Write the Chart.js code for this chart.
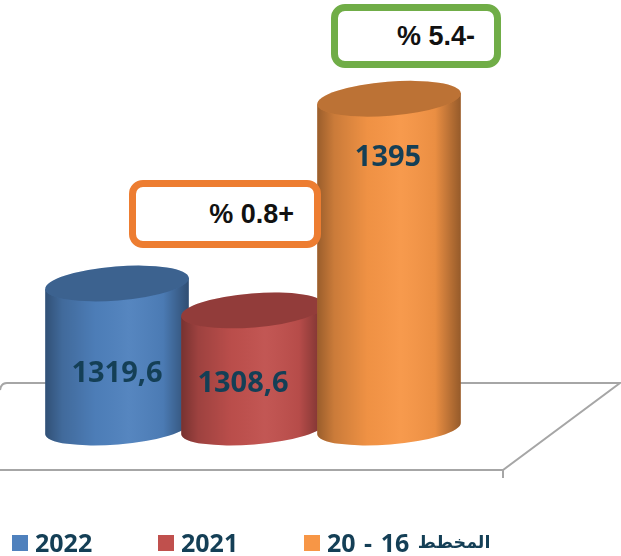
<!DOCTYPE html>
<html lang="ar">
<head>
<meta charset="utf-8">
<title>chart</title>
<script src="https://cdn.jsdelivr.net/npm/chart.js@4"></script>
<style>
    html, body { margin: 0; padding: 0; background: #fff; }
    #wrap { position: relative; width: 621px; height: 556px; overflow: hidden; }
    #chart { position: absolute; left: 0; top: 0; }
    .callout {
        position: absolute;
        box-sizing: border-box;
        background: #fff;
        border: 7px solid;
        border-radius: 14px;
        font: bold 27px "Liberation Sans", sans-serif;
        color: #111;
        white-space: pre;
        text-align: right;
    }
    #legend { position: absolute; left: 0; top: 0; font: bold 25px "Open Sans", "DejaVu Sans", sans-serif; color: #143f56; }
    .item { position: absolute; top: 525px; height: 34px; line-height: 34px; white-space: nowrap; }
    .box { position: absolute; left: 0; top: 10px; width: 16px; height: 16px; }
    .name { position: absolute; left: 23px; top: 0; word-spacing: 2px; }
    .word { position: relative; top: -4px; font-size: 17.5px; }
</style>
</head>
<body>
<div id="wrap">
    <canvas id="chart" width="621" height="556"></canvas>
    <div id="legend"></div>
    <div class="callout" style="left:129px;top:180px;width:192px;height:68px;line-height:54px;padding-right:20px;border-color:#ED7D31">% 0.8+</div>
    <div class="callout" style="left:331px;top:4px;width:170px;height:64px;line-height:50px;padding-right:19px;border-color:#70AD47">% 5.4-</div>
</div>
<script>
const categories = ['2022', '2021', 'المخطط 16 - 20'];
const values = [1319.6, 1308.6, 1395];
const valueLabels = ['1319,6', '1308,6', '1395'];
const colors = ['#4F81BD', '#C0504D', '#F79646'];

// where the value labels sit, relative to the top of each cylinder
const labelOffsets = [[0, 90], [-10, 73], [-1, 59]];
const legendLefts = [12, 158, 304];

// floor of the 3d chart, behind the bars
const floorPlugin = {
    id: 'floor',
    beforeDatasetsDraw: function (chart) {
        const ctx = chart.ctx;
        ctx.save();
        ctx.strokeStyle = '#A6A6A6';
        ctx.lineWidth = 2;
        ctx.beginPath();
        ctx.moveTo(0, 390);
        ctx.quadraticCurveTo(1, 383, 7, 383);
        ctx.lineTo(620, 383);
        ctx.lineTo(503, 470);
        ctx.lineTo(0, 470);
        ctx.moveTo(503, 470);
        ctx.lineTo(503, 478);
        ctx.stroke();
        ctx.restore();
    }
};

// replaces the flat bars with tilted cylinders
const cylinderPlugin = {
    id: 'cylinder',
    beforeDatasetDraw: function (chart, args) {
        const ctx = chart.ctx;
        const tilt = -0.08;
        const ry = 17;
        args.meta.data.forEach(function (bar, i) {
            const rx = bar.width / 2;
            const dx = rx * Math.cos(tilt);
            const dy = rx * Math.sin(tilt);

            const shade = ctx.createLinearGradient(bar.x - rx, 0, bar.x + rx, 0);
            shade.addColorStop(0, 'rgba(0,0,0,0.38)');
            shade.addColorStop(0.12, 'rgba(0,0,0,0.18)');
            shade.addColorStop(0.35, 'rgba(0,0,0,0.03)');
            shade.addColorStop(0.58, 'rgba(255,255,255,0.04)');
            shade.addColorStop(0.82, 'rgba(0,0,0,0.05)');
            shade.addColorStop(1, 'rgba(0,0,0,0.4)');

            ctx.save();
            ctx.beginPath();
            ctx.moveTo(bar.x - dx, bar.y - dy);
            ctx.lineTo(bar.x - dx, bar.base - dy - 1);
            ctx.ellipse(bar.x, bar.base - 1, rx, ry - 1, tilt, Math.PI, 0, true);
            ctx.lineTo(bar.x + dx, bar.y + dy);
            ctx.closePath();
            ctx.fillStyle = colors[i];
            ctx.fill();
            ctx.fillStyle = shade;
            ctx.fill();

            ctx.beginPath();
            ctx.ellipse(bar.x, bar.y, rx, ry, tilt, 0, Math.PI * 2);
            ctx.fillStyle = colors[i];
            ctx.fill();
            ctx.fillStyle = 'rgba(0,0,0,0.24)';
            ctx.fill();
            ctx.restore();
        });
        return false;
    },
    afterDatasetsDraw: function (chart) {
        const ctx = chart.ctx;
        ctx.save();
        ctx.font = 'bold 29px "Open Sans", sans-serif';
        ctx.fillStyle = '#143f56';
        ctx.textAlign = 'center';
        ctx.textBaseline = 'middle';
        chart.getDatasetMeta(0).data.forEach(function (bar, i) {
            ctx.fillText(valueLabels[i], bar.x + labelOffsets[i][0], bar.y + labelOffsets[i][1]);
        });
        ctx.restore();
    }
};

new Chart(document.getElementById('chart'), {
    type: 'bar',
    data: {
        labels: categories,
        datasets: [{
            data: values,
            base: 1260,
            backgroundColor: colors,
            barThickness: 144
        }]
    },
    options: {
        responsive: false,
        animation: false,
        layout: { padding: { left: 49, right: 164, top: 29.5, bottom: 126.5 } },
        plugins: { legend: { display: false }, tooltip: { enabled: false } },
        scales: {
            x: { display: false },
            y: { display: false, min: 1260, max: 1423.27 }
        }
    },
    plugins: [floorPlugin, cylinderPlugin]
});

// html legend under the chart, the arabic word is set smaller than the numbers
const legendEl = document.getElementById('legend');
categories.forEach(function (name, i) {
    const item = document.createElement('div');
    item.className = 'item';
    item.style.left = legendLefts[i] + 'px';
    const box = document.createElement('span');
    box.className = 'box';
    box.style.background = colors[i];
    const text = document.createElement('span');
    text.className = 'name';
    text.dir = 'rtl';
    name.split(' ').forEach(function (part, j) {
        if (/[\u0600-\u06FF]/.test(part)) {
            const word = document.createElement('span');
            word.className = 'word';
            word.textContent = part;
            text.appendChild(word);
        } else {
            text.appendChild(document.createTextNode((j ? ' ' : '') + part));
        }
    });
    item.appendChild(box);
    item.appendChild(text);
    legendEl.appendChild(item);
});
</script>
</body>
</html>
